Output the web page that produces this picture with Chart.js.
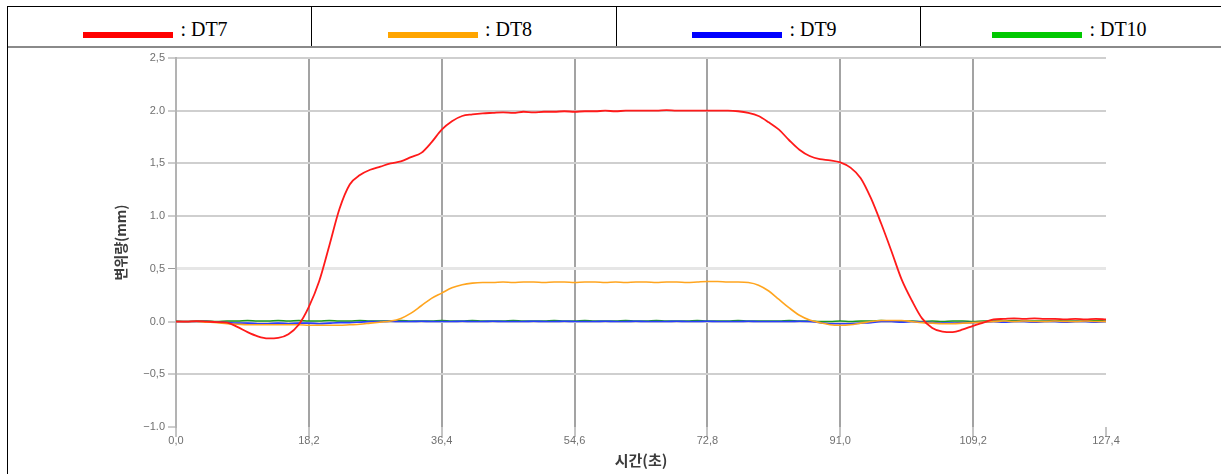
<!DOCTYPE html>
<html>
<head>
<meta charset="utf-8">
<script src="https://cdn.jsdelivr.net/npm/chart.js@4.4.1/dist/chart.umd.min.js"></script>
<style>
  html, body { margin: 0; padding: 0; background: #fff; overflow: hidden; }
  body { width: 1221px; height: 474px; position: relative; }
  #frame { position: absolute; left: 7px; top: 6px; width: 1220px; height: 480px;
           border-left: 1px solid #000; border-top: 1px solid #000; border-right: 1px solid #000; box-sizing: border-box; }
  #legend { display: flex; height: 41px; border-bottom: 2px solid #8a8a8a; box-sizing: border-box; }
  .cell { display: flex; justify-content: center; align-items: center; box-sizing: border-box; padding-top: 5px;
          font-family: "Liberation Serif", "DejaVu Serif", serif; font-size: 20px; color: #000; padding-right: 8px; }
  .cell + .cell { border-left: 1px solid #000; }
  .sw { display: inline-block; width: 90px; height: 6px; margin-right: 7px; position: relative; top: 6px; }
  #c { position: absolute; left: 0; top: 0; }
</style>
</head>
<body>
<div id="frame"><div id="legend"></div></div>
<canvas id="c" width="1221" height="474"></canvas>
<script>
// ---- data ----
const seriesNames = ['DT7', 'DT8', 'DT9', 'DT10'];
const times = [0, 1.4, 2.8, 4.2, 5.6, 7, 8.4, 9.8, 11.2, 12.6, 14, 15.4, 16.8, 18.2, 19.6, 21, 22.4, 23.8, 25.2, 26.6,
  28, 29.4, 30.8, 32.2, 33.6, 35, 36.4, 37.8, 39.2, 40.6, 42, 43.4, 44.8, 46.2, 47.6, 49, 50.4, 51.8, 53.2, 54.6,
  56, 57.4, 58.8, 60.2, 61.6, 63, 64.4, 65.8, 67.2, 68.6, 70, 71.4, 72.8, 74.2, 75.6, 77, 78.4, 79.8, 81.2, 82.6,
  84, 85.4, 86.8, 88.2, 89.6, 91, 92.4, 93.8, 95.2, 96.6, 98, 99.4, 100.8, 102.2, 103.6, 105, 106.4, 107.8, 109.2, 110.6,
  112, 113.4, 114.8, 116.2, 117.6, 119, 120.4, 121.8, 123.2, 124.6, 126, 127.4];
const dt7 = [0, 0, 0.005, 0, -0.005, -0.01, -0.05, -0.10, -0.14, -0.16, -0.155, -0.12, -0.03, 0.14, 0.38, 0.72, 1.07, 1.30, 1.39, 1.44,
  1.47, 1.50, 1.52, 1.56, 1.60, 1.70, 1.82, 1.90, 1.95, 1.965, 1.975, 1.98, 1.985, 1.98, 1.99, 1.985, 1.99, 1.99, 1.995, 1.99,
  1.995, 1.995, 2.0, 1.995, 2.0, 2.0, 2.0, 2.0, 2.005, 2.0, 2.0, 2.0, 2.0, 2.0, 2.0, 1.995, 1.98, 1.95, 1.89, 1.82,
  1.72, 1.63, 1.57, 1.54, 1.53, 1.51, 1.46, 1.36, 1.17, 0.93, 0.67, 0.40, 0.20, 0.03, -0.06, -0.095, -0.10, -0.075, -0.04, -0.01,
  0.02, 0.025, 0.03, 0.025, 0.03, 0.025, 0.025, 0.02, 0.025, 0.02, 0.025, 0.02];
const dt8 = [0, 0, 0, -0.005, -0.01, -0.02, -0.025, -0.03, -0.03, -0.03, -0.03, -0.03, -0.03, -0.035, -0.035, -0.035, -0.035, -0.03, -0.025, -0.015,
  -0.005, 0.005, 0.03, 0.08, 0.15, 0.22, 0.27, 0.32, 0.35, 0.365, 0.37, 0.37, 0.375, 0.37, 0.375, 0.375, 0.37, 0.375, 0.375, 0.37,
  0.375, 0.375, 0.37, 0.375, 0.37, 0.375, 0.375, 0.37, 0.375, 0.375, 0.37, 0.375, 0.38, 0.38, 0.375, 0.375, 0.37, 0.345, 0.29, 0.21,
  0.13, 0.06, 0.015, -0.01, -0.03, -0.035, -0.03, -0.015, 0, 0.01, 0.01, 0.01, 0, -0.01, -0.015, -0.02, -0.02, -0.015, -0.01, -0.005,
  0, 0.005, 0, 0.005, 0, 0, 0.005, 0, 0, 0.005, 0, 0];
const dt9 = [0, 0, 0, 0, -0.005, -0.01, -0.015, -0.015, -0.02, -0.02, -0.015, -0.02, -0.015, -0.015, -0.02, -0.015, -0.01, -0.01, -0.005, 0,
  0, 0.003, 0, 0, 0.003, 0, 0, 0, 0.003, 0, 0, 0.003, 0, 0, 0, 0.003, 0, 0, 0.003, 0,
  0, 0, 0.003, 0, 0, 0.003, 0, 0, 0, 0.003, 0, 0, 0.003, 0, 0, 0, 0.003, 0, 0, 0,
  0, 0.003, 0, -0.01, -0.02, -0.02, -0.02, -0.015, -0.01, 0, 0, -0.005, 0, -0.005, -0.01, -0.015, -0.015, -0.01, -0.01, -0.005,
  0, -0.005, 0, 0, -0.005, 0, 0, -0.005, 0, 0, -0.005, 0];
const dt10 = [0.005, 0, 0.005, 0.005, 0, 0.005, 0.005, 0.01, 0.005, 0.005, 0.01, 0.005, 0.01, 0.005, 0.005, 0.01, 0.005, 0.005, 0.01, 0.005,
  0.005, 0.005, 0.01, 0.005, 0.005, 0.005, 0.01, 0.005, 0.005, 0.01, 0.005, 0.005, 0.005, 0.01, 0.005, 0.005, 0.005, 0.01, 0.005, 0.005,
  0.01, 0.005, 0.005, 0.005, 0.01, 0.005, 0.005, 0.01, 0.005, 0.005, 0.005, 0.01, 0.005, 0.005, 0.005, 0.01, 0.005, 0.005, 0.005, 0.005,
  0.01, 0.005, 0.005, 0, 0, 0.005, 0, 0.005, 0.005, 0.01, 0.005, 0.005, 0.005, 0, 0.005, 0, 0.005, 0.005, 0, 0.005,
  0.005, 0.005, 0.01, 0.005, 0.005, 0.005, 0.01, 0.005, 0.005, 0.005, 0.01, 0.005];
const xTicks = [0, 18.2, 36.4, 54.6, 72.8, 91.0, 109.2, 127.4];
const xTickLabels = ['0,0', '18,2', '36,4', '54,6', '72,8', '91,0', '109,2', '127,4'];
const yTicks = [-1.0, -0.5, 0.0, 0.5, 1.0, 1.5, 2.0, 2.5];
const yTickLabels = ['\u22121.0', '\u22120,5', '0.0', '0,5', '1.0', '1,5', '2.0', '2,5'];
const xTitle = '시간(초)';
const yTitle = '변위량(mm)';

// ---- styles ----
const colors = ['#ff0000', '#ffa500', '#0000ff', '#00c800'];
const lineColors = ['#ff1a1a', '#ffa51f', '#2a3cff', '#1a9a1a'];

// ---- legend (HTML) ----
const legend = document.getElementById('legend');
const cellWidths = [303, 304, 303, 302];
seriesNames.forEach((n, i) => {
  const cell = document.createElement('div');
  cell.className = 'cell';
  cell.style.width = (cellWidths[i] + (i > 0 ? 1 : 0)) + 'px';
  if (i === 3) cell.style.flex = '1';
  const sw = document.createElement('span');
  sw.className = 'sw';
  sw.style.background = colors[i];
  const tx = document.createElement('span');
  tx.textContent = ': ' + n;
  cell.appendChild(sw);
  cell.appendChild(tx);
  legend.appendChild(cell);
});

const series = [dt7, dt8, dt9, dt10];
const datasets = series.map((ys, i) => ({
  label: seriesNames[i],
  data: ys.map((y, j) => ({ x: times[j], y })),
  borderColor: lineColors[i],
  borderWidth: i === 0 ? 1.8 : 1.6,
  pointRadius: 0,
  cubicInterpolationMode: 'monotone',
  fill: false
}));

const tickFont = { family: '"Liberation Sans", Arial, sans-serif', size: 11 };

new Chart(document.getElementById('c'), {
  type: 'line',
  data: { datasets },
  options: {
    responsive: false,
    animation: false,
    events: [],
    layout: { padding: { left: 0, top: 58, right: 115, bottom: 0 } },
    plugins: { legend: { display: false }, tooltip: { enabled: false } },
    scales: {
      x: {
        type: 'linear', min: 0, max: 127.4,
        afterBuildTicks: s => { s.ticks = xTicks.map(v => ({ value: v })); },
        afterFit: s => { s.height = 47; },
        ticks: { callback: (v, i) => xTickLabels[i], font: tickFont, color: '#707070', padding: -3, maxRotation: 0, autoSkip: false },
        grid: {
          color: c => (c.tick && (c.tick.value === 0 || c.tick.value === 127.4)) ? 'rgba(0,0,0,0)' : '#a3a3a3',
          lineWidth: 2, drawTicks: true, tickLength: 10, tickColor: '#8a8a8a', tickWidth: 1
        },
        border: { display: false },
        title: { display: true, text: xTitle, color: '#3c3c3c',
                 font: { family: '"Noto Sans CJK KR", sans-serif', size: 15, weight: 'bold' },
                 padding: { top: 0, bottom: 5 } }
      },
      y: {
        type: 'linear', min: -1.0, max: 2.5,
        afterBuildTicks: s => { s.ticks = yTicks.map(v => ({ value: v })); },
        afterFit: s => { s.width = 176; },
        ticks: { callback: (v, i) => yTickLabels[i], font: tickFont, color: '#707070', padding: 3 },
        grid: {
          color: c => {
            if (!c.tick) return '#cfcfcf';
            if (c.tick.value === -1) return 'rgba(0,0,0,0)';
            if (c.tick.value === 0.5) return '#e6e6e6';
            return '#cfcfcf';
          },
          lineWidth: c => (c.tick && c.tick.value === 0.5) ? 3 : 2,
          drawTicks: true, tickLength: 8, tickColor: '#9a9a9a', tickWidth: 1
        },
        border: { display: true, color: '#b3b3b3', width: 2 },
        title: { display: true, text: yTitle, color: '#3c3c3c',
                 font: { family: '"Noto Sans CJK KR", sans-serif', size: 14, weight: 'bold' },
                 padding: { top: 112, bottom: 0 } }
      }
    }
  }
});
</script>
</body>
</html>
